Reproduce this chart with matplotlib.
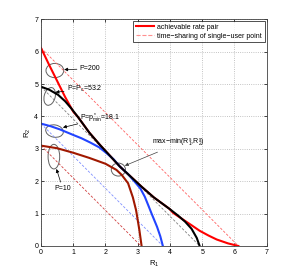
import matplotlib
matplotlib.use("Agg")
import matplotlib.pyplot as plt
from matplotlib.patches import Ellipse

plt.rcParams['font.family'] = ['Liberation Sans', 'DejaVu Sans']
plt.rcParams['mathtext.fontset'] = 'custom'
plt.rcParams['mathtext.rm'] = 'Liberation Sans'
plt.rcParams['mathtext.it'] = 'Liberation Sans:italic'
plt.rcParams['mathtext.default'] = 'regular'
plt.rcParams['font.size'] = 5

# achievable rate pairs for each power
p200_r1 = [0, 0.25, 0.5, 0.75, 1.0, 1.15, 1.5, 1.83, 2.45, 3.12, 3.5, 3.98, 4.1, 4.43, 4.7, 4.92, 5.2, 5.45, 5.8, 6.12]
p200_r2 = [6.12, 5.6, 5.1, 4.6, 4.15, 3.98, 3.5, 3.12, 2.45, 1.83, 1.5, 1.15, 1.02, 0.8, 0.62, 0.47, 0.32, 0.2, 0.08, 0]

pc_r1 = [0, 0.25, 0.53, 0.75, 0.94, 1.15, 1.5, 1.83, 2.45, 3.12, 3.5, 3.98, 4.25, 4.47, 4.67, 4.83, 4.92]
pc_r2 = [4.92, 4.83, 4.67, 4.47, 4.25, 3.98, 3.5, 3.12, 2.45, 1.83, 1.5, 1.15, 0.94, 0.75, 0.53, 0.25, 0]

pmin_r1 = [0, 0.3, 0.59, 1.0, 1.25, 1.52, 1.8, 2.03, 2.25, 2.45, 2.7, 2.91, 3.08, 3.22, 3.33, 3.43, 3.6, 3.7, 3.78]
pmin_r2 = [3.78, 3.7, 3.6, 3.43, 3.33, 3.2, 3.05, 2.87, 2.68, 2.45, 2.22, 1.98, 1.78, 1.52, 1.25, 1.0, 0.59, 0.3, 0]

p10_r1 = [0, 0.5, 1.0, 1.5, 2.0, 2.34, 2.5, 2.7, 2.85, 2.95, 3.05, 3.12]
p10_r2 = [3.1, 3.02, 2.88, 2.72, 2.54, 2.35, 2.2, 1.94, 1.5, 1.1, 0.5, 0]

# single-user rates (end points of the time-sharing lines)
single_user = {'p200': 6.12, 'pc': 4.92, 'pmin': 3.78, 'p10': 3.1}

fig = plt.figure(figsize=(2.97, 2.77), dpi=100)
ax = fig.add_axes([0.138, 0.112, 0.760, 0.818])

# time-sharing lines
ax.plot([0, single_user['p10']], [single_user['p10'], 0], ls='--', color='#d04040', lw=0.6, dashes=(3, 2))
ax.plot([0, single_user['pmin']], [single_user['pmin'], 0], ls='--', color='#7f8fff', lw=0.6, dashes=(3, 2))
ax.plot([0, single_user['pc']], [single_user['pc'], 0], ls='--', color='#808080', lw=0.6, dashes=(3, 2))
ax.plot([0, single_user['p200']], [single_user['p200'], 0], ls='--', color='#ff6060', lw=0.6, dashes=(3, 2))

# rate curves
ax.plot(p200_r1, p200_r2, color='red', lw=1.5)
ax.plot(p10_r1, p10_r2, color='#a01800', lw=1.5)
ax.plot(pmin_r1, pmin_r2, color='#2244ff', lw=1.5)
ax.plot(pc_r1, pc_r2, color='black', lw=1.5)

# legend entries
ax.plot([], [], color='red', lw=1.5, label='achievable rate pair')
ax.plot([], [], ls='--', color='#ff9090', lw=0.8, label='time\u2212sharing of single\u2212user point')
h, l = ax.get_legend_handles_labels()
leg = ax.legend(h[-2:], l[-2:], loc='upper right', fontsize=5, frameon=True, fancybox=False,
                edgecolor='black', handlelength=2.6, handletextpad=0.5, borderpad=0.35,
                labelspacing=0.25, borderaxespad=0.3)
leg.get_frame().set_linewidth(0.6)

# ellipses
ell_kw = dict(fill=False, edgecolor='#606060', lw=0.7)
ax.add_patch(Ellipse((0.43, 5.42), 0.55, 0.44, **ell_kw))
ax.add_patch(Ellipse((0.27, 4.62), 0.34, 0.56, angle=-15, **ell_kw))
ax.add_patch(Ellipse((0.42, 3.55), 0.55, 0.38, angle=-10, **ell_kw))
ax.add_patch(Ellipse((0.40, 2.76), 0.36, 0.76, **ell_kw))
ax.add_patch(Ellipse((2.40, 2.36), 0.44, 0.40, **ell_kw))

arr = dict(arrowstyle='-|>', color='black', lw=0.5, mutation_scale=5, shrinkA=0, shrinkB=0)
ax.annotate('P=200', xy=(0.72, 5.45), xytext=(1.2, 5.47), va='center', arrowprops=arr)
ax.annotate('P=P$_c$=53.2', xy=(0.45, 4.75), xytext=(0.8, 4.84), va='center', arrowprops=arr)
ax.annotate('P=p$^*_{min}$=18.1', xy=(0.68, 3.66), xytext=(1.22, 3.94), va='center', arrowprops=arr)
ax.annotate('P=10', xy=(0.48, 2.38), xytext=(0.67, 1.78), ha='center', va='center', arrowprops=arr)
ax.annotate('max\u2212min(R$_1^s$,R$_2^s$)', xy=(2.6, 2.48), xytext=(3.45, 3.17), va='center',
            arrowprops=dict(arr, color='#404040'))

ax.set_xlim(0, 7)
ax.set_ylim(0, 7)
ax.set_xticks(range(8))
ax.set_yticks(range(8))
ax.grid(True, ls=':', color='#b0b0b0', lw=0.6)
ax.tick_params(direction='in', length=2.5, width=0.5, top=True, right=True, labelsize=5, pad=2)
for s in ax.spines.values():
    s.set_linewidth(0.6)
    s.set_color('#404040')
ax.set_xlabel('R$_1$', fontsize=5.5, labelpad=2)
ax.set_ylabel('R$_2$', fontsize=5.5, labelpad=1)

fig.savefig('out.png', dpi=100)
